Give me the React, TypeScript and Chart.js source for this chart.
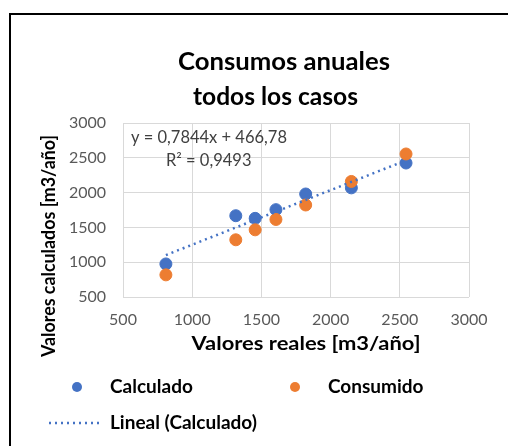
import React, { useEffect, useRef } from "react";
import { Chart, registerables } from "chart.js";

Chart.register(...registerables);

const titleLines = ["Consumos anuales", "todos los casos"];
const xAxisTitle = "Valores reales [m3/año]";
const yAxisTitle = "Valores calculados [m3/año]";
const realValues = [810, 1315, 1455, 1605, 1820, 2150, 2545];
const calculadoValues = [975, 1668, 1630, 1755, 1980, 2068, 2425];
const consumidoValues = [818, 1322, 1465, 1614, 1822, 2160, 2555];
const trendSlope = 0.7844;
const trendIntercept = 466.78;
const equationText = "y = 0,7844x + 466,78";
const r2Text = "R² = 0,9493";
const axisMin = 500;
const axisMax = 3000;
const axisStep = 500;

const BLUE = "#4472C4";
const ORANGE = "#ED7D31";
const FONT = "Lato";

function fitText(ctx: CanvasRenderingContext2D, text: string, cx: number, cy: number, width: number) {
  const w = ctx.measureText(text).width;
  ctx.save();
  ctx.translate(cx, cy);
  ctx.scale(width / w, 1);
  ctx.textAlign = "center";
  ctx.fillText(text, 0, 0);
  ctx.restore();
}

const decorPlugin = {
  id: "decor",
  afterDraw(chart: any) {
    const ctx = chart.ctx;
    const ca = chart.chartArea;
    ctx.save();
    // frame
    ctx.fillStyle = "#000";
    ctx.fillRect(9, 13, 2, 446);
    ctx.fillRect(9, 13, 520, 2);
    // title
    ctx.fillStyle = "#000";
    ctx.font = `bold 25px ${FONT}`;
    ctx.textBaseline = "middle";
    fitText(ctx, titleLines[0], 284, 62, 212);
    fitText(ctx, titleLines[1], 275.5, 97, 165);
    // axis titles
    ctx.font = `bold 19px ${FONT}`;
    fitText(ctx, xAxisTitle, 306, 344, 229);
    ctx.save();
    ctx.translate(49, 246);
    ctx.rotate(-Math.PI / 2);
    fitText(ctx, yAxisTitle, 0, 0, 222);
    ctx.restore();
    // equation
    ctx.font = `16.5px ${FONT}`;
    ctx.fillStyle = "#404040";
    ctx.textAlign = "left";
    ctx.fillText(equationText, ca.left + 8, 138);
    ctx.fillText(r2Text, ca.left + 43, 161);
    // legend
    const ds = chart.data.datasets;
    ctx.font = `bold 19px ${FONT}`;
    const row1 = 387;
    const row2 = 423;
    ctx.beginPath();
    ctx.arc(77, row1, 5, 0, Math.PI * 2);
    ctx.fillStyle = ds[1].backgroundColor;
    ctx.fill();
    ctx.fillStyle = "#000";
    ctx.fillText(ds[1].label, 110, row1);
    ctx.beginPath();
    ctx.arc(295, row1, 5, 0, Math.PI * 2);
    ctx.fillStyle = ds[2].backgroundColor;
    ctx.fill();
    ctx.fillStyle = "#000";
    ctx.fillText(ds[2].label, 328, row1);
    ctx.beginPath();
    ctx.setLineDash([2, 4]);
    ctx.lineWidth = 2.5;
    ctx.strokeStyle = ds[0].borderColor;
    ctx.moveTo(49, row2);
    ctx.lineTo(100, row2);
    ctx.stroke();
    ctx.setLineDash([]);
    ctx.fillText(ds[0].label, 110, row2);
    ctx.restore();
  },
};

export default function App() {
  const ref = useRef<HTMLCanvasElement>(null);
  useEffect(() => {
    const xMinData = Math.min(...realValues);
    const xMaxData = Math.max(...realValues);
    const trend = [
      { x: xMinData, y: trendSlope * xMinData + trendIntercept },
      { x: xMaxData, y: trendSlope * xMaxData + trendIntercept },
    ];
    const chart = new Chart(ref.current as HTMLCanvasElement, {
      type: "scatter",
      data: {
        datasets: [
          {
            type: "line",
            label: "Lineal (Calculado)",
            data: trend,
            borderColor: BLUE,
            backgroundColor: BLUE,
            borderWidth: 2.5,
            borderDash: [2, 4],
            pointRadius: 0,
            showLine: true,
            fill: false,
            order: 0,
          } as any,
          {
            label: "Calculado",
            data: realValues.map((x, i) => ({ x, y: calculadoValues[i] })),
            backgroundColor: BLUE,
            borderColor: BLUE,
            pointRadius: 6,
            order: 2,
          },
          {
            label: "Consumido",
            data: realValues.map((x, i) => ({ x, y: consumidoValues[i] })),
            backgroundColor: ORANGE,
            borderColor: ORANGE,
            pointRadius: 6,
            order: 1,
          },
        ],
      },
      options: {
        responsive: false,
        animation: false,
        devicePixelRatio: 1,
        layout: { padding: { left: 43, right: 39, top: 123, bottom: 119 } },
        plugins: { legend: { display: false }, tooltip: { enabled: false }, title: { display: false } },
        scales: {
          x: {
            type: "linear",
            min: axisMin,
            max: axisMax,
            ticks: { stepSize: axisStep, color: "#595959", font: { family: FONT, size: 16 }, padding: 13, callback: (v: any) => String(v) },
            grid: { color: "#D9D9D9", drawTicks: false },
            border: { display: false },
            afterFit: (s: any) => { s.height = 30; },
          },
          y: {
            type: "linear",
            min: axisMin,
            max: axisMax,
            ticks: { stepSize: axisStep, color: "#595959", font: { family: FONT, size: 16 }, padding: 17, callback: (v: any) => String(v) },
            grid: { color: "#D9D9D9", drawTicks: false },
            border: { display: false },
            afterFit: (s: any) => { s.width = 80; },
          },
        },
      } as any,
      plugins: [decorPlugin],
    });
    return () => chart.destroy();
  }, []);
  return (
    <div style={{ position: "fixed", left: 0, top: 0, width: 508, height: 446, overflow: "hidden", background: "#fff" }}>
      <canvas ref={ref} width={508} height={446} style={{ display: "block" }} />
    </div>
  );
}
